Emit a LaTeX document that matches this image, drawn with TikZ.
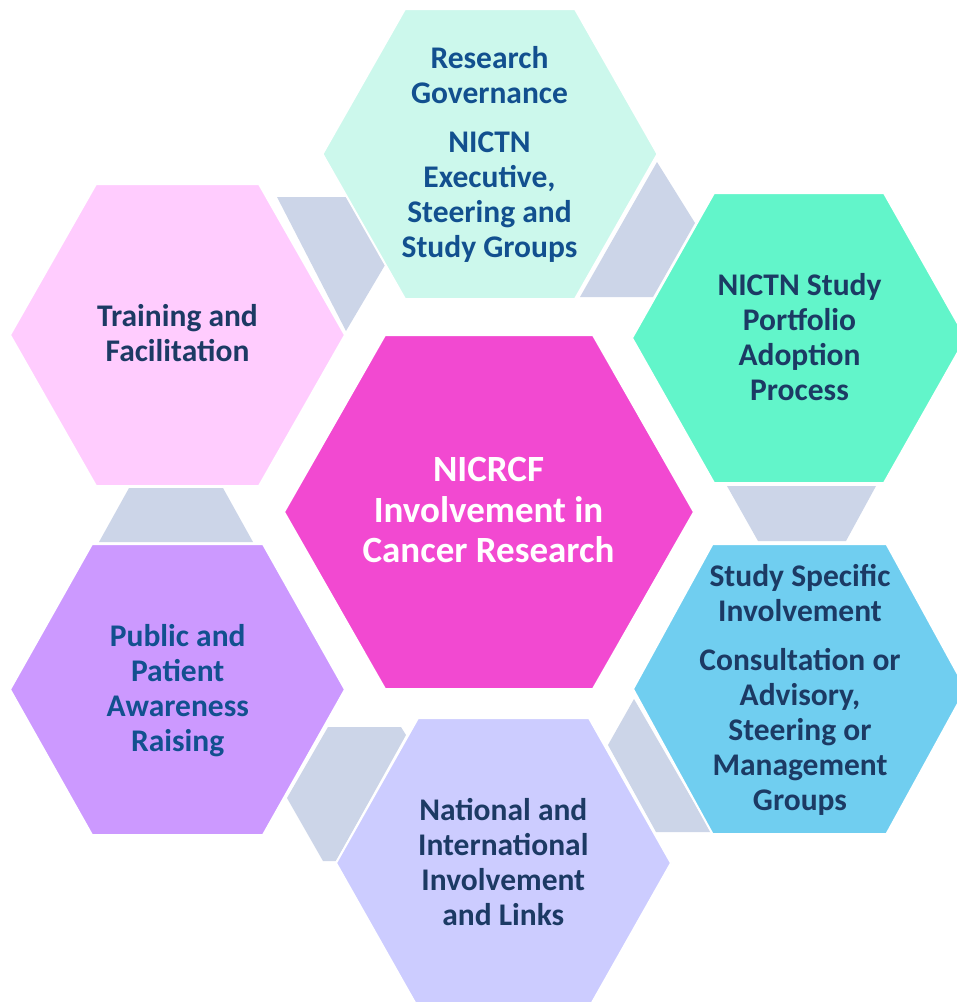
\documentclass[tikz,border=0pt]{standalone}
\usepackage{fontspec}
\setmainfont{Carlito}
\definecolor{mintc}{HTML}{CCF8EC}
\definecolor{pinkc}{HTML}{FFCCFE}
\definecolor{greenc}{HTML}{62F5CA}
\definecolor{magc}{HTML}{F249D1}
\definecolor{bluec}{HTML}{70CEF0}
\definecolor{purplec}{HTML}{CC99FF}
\definecolor{lavc}{HTML}{CCCCFF}
\definecolor{grayc}{HTML}{CCD5E8}
\definecolor{navyt}{HTML}{1C3A64}
\definecolor{bluet}{HTML}{12508F}
\newcommand\capstrut{\rule{0pt}{0.632em}}
\newcommand\sm[1]{\smash{#1}}
\newcommand\hexag[6]{%
  \path[hexshape, fill=#6] (#1-#3,#2) -- (#1-#4,#2-#5) -- (#1+#4,#2-#5) -- (#1+#3,#2)
    -- (#1+#4,#2+#5) -- (#1-#4,#2+#5) -- cycle;}
\tikzset{
  hexshape/.style={draw=white, line width=2pt, line join=miter},
  grayshape/.style={fill=grayc, draw=none},
  lbl/.style={align=center, inner sep=0pt, font=\fontsize{31.5}{35}\selectfont\bfseries},
  biglbl/.style={align=center, inner sep=0pt, font=\fontsize{37}{40.5}\selectfont\bfseries, text=white},
}
\begin{document}
\begin{tikzpicture}[x=1pt,y=-1pt]
\clip (0,0) rectangle (957,1002);
\fill[white] (0,0) rectangle (957,1002);
% gray connector pieces
\path[grayshape] (277,197) -- (349,197) -- (385,265) -- (346,331) -- cycle;
\path[grayshape] (580,297) -- (657,162) -- (695,223) -- (653,297) -- cycle;
\path[grayshape] (727,486) -- (876,486) -- (846,541) -- (758,541) -- cycle;
\path[grayshape] (634,699) -- (608,745) -- (656,832) -- (711,832) -- cycle;
\path[grayshape] (328,727) -- (401,727) -- (406,735) -- (336,861) -- (323,861) -- (287,798) -- cycle;
\path[grayshape] (129,488) -- (223,488) -- (253,542) -- (99,542) -- cycle;
% hexagons
\hexag{490}{154}{167.5}{85}{145}{mintc}
\hexag{177.5}{335}{167.5}{81.5}{151}{pinkc}
\hexag{799}{338}{167}{85}{145}{greenc}
\hexag{489}{512}{205}{104}{177}{magc}
\hexag{799.5}{689}{166.5}{87}{145}{bluec}
\hexag{177.5}{689.5}{167.5}{85.5}{145.5}{purplec}
\hexag{503.5}{863}{167.5}{85.5}{145}{lavc}
% labels
\node[lbl, text=bluet] (research) at (489.5,153.5)
  {\capstrut\sm{Research}\\\sm{Governance}\\[14pt]\sm{NICTN}\\\sm{Executive,}\\\sm{Steering and}\\\sm{Study Groups}};
\node[lbl, text=navyt] (training) at (177.5,334.5)
  {\capstrut\sm{Training and}\\\sm{Facilitation}};
\node[lbl, text=navyt] (portfolio) at (799.5,338)
  {\capstrut\sm{NICTN Study}\\\sm{Portfolio}\\\sm{Adoption}\\\sm{Process}};
\node[biglbl] (centre) at (488.5,510.5)
  {\capstrut\sm{NICRCF}\\\sm{Involvement in}\\\sm{Cancer Research}};
\node[lbl, text=navyt] (study) at (800,689)
  {\capstrut\sm{Study Specific}\\\sm{Involvement}\\[14pt]\sm{Consultation or}\\\sm{Advisory,}\\\sm{Steering or}\\\sm{Management}\\\sm{Groups}};
\node[lbl, text=bluet] (public) at (177.7,689)
  {\capstrut\sm{Public and}\\\sm{Patient}\\\sm{Awareness}\\\sm{Raising}};
\node[lbl, text=navyt] (national) at (503.3,863)
  {\capstrut\sm{National and}\\\sm{International}\\\sm{Involvement}\\\sm{and Links}};
\end{tikzpicture}
\end{document}
